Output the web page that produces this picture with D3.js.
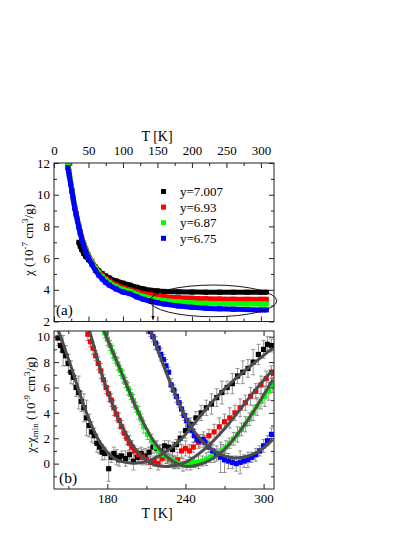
<!DOCTYPE html>
<html>
<head>
<meta charset="utf-8">
<script src="https://cdn.jsdelivr.net/npm/d3@7"></script>
<style>
  body { margin: 0; background: #fff; }
</style>
</head>
<body>
<svg id="chart" width="415" height="537"></svg>
<script>
// ---- panel (a): chi vs T, four compositions ----
var topT = [20,22,24,26,28,30,32,34,36,38,40,43,46,50,55,60,65,70,75,80,90,100,110,120,130,140,150,160,180,200,220,240,260,280,300,308];
var chiRed   = [12.0,11.45,10.85,10.3,9.8,9.25,8.85,8.45,8.05,7.7,7.35,6.95,6.6,6.2,5.8,5.45,5.15,4.92,4.72,4.56,4.32,4.14,4.0,3.88,3.76,3.68,3.62,3.57,3.51,3.47,3.44,3.42,3.41,3.4,3.4,3.4];
var chiGreen = [11.9,11.4,10.8,10.25,9.75,9.2,8.8,8.4,8.0,7.62,7.28,6.88,6.52,6.12,5.72,5.36,5.06,4.82,4.62,4.45,4.2,4.02,3.9,3.72,3.58,3.47,3.39,3.33,3.24,3.18,3.15,3.13,3.11,3.1,3.1,3.1];
var chiBlue  = [11.7,11.25,10.7,10.2,9.7,9.15,8.75,8.35,7.95,7.58,7.22,6.8,6.42,6.02,5.6,5.22,4.92,4.68,4.47,4.3,4.05,3.86,3.75,3.55,3.4,3.28,3.18,3.1,2.98,2.9,2.84,2.8,2.77,2.75,2.73,2.73];
var blackT   = [36,38,40,43,46,50,55,60,65,70,75,80,90,100,110,120,130,140,150,160,180,200,220,240,260,280,300,308];
var chiBlack = [7.0,6.75,6.55,6.3,6.1,5.9,5.65,5.42,5.2,5.02,4.87,4.75,4.56,4.42,4.3,4.16,4.05,3.97,3.93,3.9,3.87,3.86,3.85,3.85,3.85,3.85,3.85,3.85];

var legendLabels = ["y=7.007", "y=6.93", "y=6.87", "y=6.75"];
var seriesColors = ["#000000", "#ff0000", "#00ff00", "#0000ff"];

var topTicks = [0,50,100,150,200,250,300];
var topMinor = [25,75,125,175,225,275];
var chiTicks = [2,4,6,8,10,12];
var chiMinor = [3,5,7,9,11];

// ellipse marking the high-T region, and the arrow at T*
var ellT = 231, ellChi = 3.3, ellDT = 92, ellDChi = 1.0;
var arrowT = 143.5, arrowFrom = 3.45, arrowTo = 2.12;

// ---- panel (b): chi - chi_min vs T with fits ----
var bBlackT = [142,144,146,148,150,152,154,156,158,160,162,164,166,168,170,172,174,176,178,181,183,185,187,189,191,194,197,200,203,206,209,212,215,218,221,224,227,230,233,236,240,244,248,252,256,260,264,268,272,276,280,284,288,292,296,300,303,306];
var bBlackV = [9.9,9.3,8.9,8.5,7.9,7.2,6.8,6.0,5.6,4.9,4.4,3.6,3.0,2.5,2.2,1.6,1.3,0.9,0.8,-0.4,0.5,0.8,0.5,0.3,0.6,0.4,0.7,0.2,0.5,0.8,0.6,0.9,1.3,1.2,1.0,1.4,1.3,1.1,1.5,2.0,2.6,3.1,3.6,4.0,4.4,4.7,5.2,5.6,6.0,6.3,6.9,7.2,7.5,8.0,8.6,9.0,9.4,9.3];
var bBlackE = [0.6,0.5,1.2,0.8,0.7,0.9,0.6,0.7,1.3,0.8,1.1,1.4,0.9,0.8,0.6,0.7,0.5,0.6,0.5,1.0,0.4,0.5,0.6,0.5,0.4,0.6,0.4,0.7,0.5,0.5,0.6,0.4,0.5,0.6,0.5,0.4,0.5,0.6,0.4,0.5,0.6,0.5,0.5,0.6,0.6,0.8,0.7,0.9,0.5,0.8,0.6,0.9,0.7,1.0,0.8,0.7,0.6,0.5];

var bRedT = [165,167,169,171,173,175,177,179,181,183,185,187,189,191,193,195,197,199,201,204,207,210,213,216,219,222,225,228,231,234,237,240,243,246,250,254,258,262,266,270,274,278,282,286,290,294,298,302,306];
var bRedV = [10.2,9.6,9.1,8.5,7.9,7.3,6.6,6.0,5.5,5.0,4.4,3.9,3.4,2.9,2.4,2.0,1.6,1.3,1.0,0.7,0.5,0.3,0.1,0.2,0.0,0.4,0.5,0.3,0.1,0.3,1.0,1.2,1.0,1.3,1.7,1.9,2.2,2.5,2.9,3.3,3.6,4.0,4.4,4.8,5.3,5.7,6.2,6.7,7.2];
var bRedE = [0.5,0.4,0.5,0.4,0.5,0.6,0.4,0.5,0.6,0.5,0.6,0.5,0.6,0.5,0.4,0.5,0.6,0.5,0.4,0.5,0.6,0.4,0.5,0.4,0.5,0.6,0.5,0.4,0.5,0.6,0.5,0.6,0.5,0.4,0.5,0.6,0.5,0.6,0.7,0.6,0.8,0.6,0.7,0.6,0.7,0.6,0.7,0.6,0.5];

var bGreenT = [178,180,182,184,186,188,190,192,194,196,198,200,202,204,206,208,211,214,217,220,223,226,229,232,235,238,241,244,247,250,253,256,259,262,265,268,271,274,277,280,283,286,289,292,295,298,301,304,307];
var bGreenV = [10.3,9.8,9.3,8.8,8.3,7.85,7.35,6.85,6.4,5.9,5.45,4.95,4.45,4.0,3.5,2.9,2.3,1.8,1.3,0.95,0.7,0.5,0.3,0.1,0.0,-0.1,-0.1,0.0,0.1,0.1,0.2,0.35,0.5,0.6,0.75,1.0,1.3,1.6,1.95,2.3,2.7,3.1,3.5,4.0,4.5,4.9,5.3,5.7,6.2];
var bGreenE = [0.4,0.5,0.4,0.5,0.4,0.5,0.4,0.5,0.4,0.5,0.4,0.5,0.4,0.5,0.4,0.5,0.4,0.5,0.4,0.5,0.4,0.5,0.4,0.5,0.4,0.5,0.4,0.5,0.4,0.5,0.4,0.5,0.4,0.5,0.4,0.5,0.5,0.4,0.5,0.6,0.5,0.6,0.5,0.6,0.7,0.6,0.8,0.7,0.6];

var bBlueT = [213,215,217,219,221,223,225,227,229,231,233,235,237,239,241,243,245,247,249,251,253,255,258,261,264,267,270,273,276,279,282,285,288,291,294,297,300,303,306];
var bBlueV = [10.4,10.0,9.5,9.1,8.6,8.2,7.7,7.2,6.2,5.8,5.3,4.8,4.3,3.8,3.4,3.0,2.6,2.2,1.9,1.8,1.9,1.7,1.3,1.0,0.8,0.5,0.3,0.2,0.1,0.0,0.1,0.2,0.3,0.5,0.7,1.0,1.4,1.8,2.3];
var bBlueE = [0.4,0.4,0.5,0.4,0.5,0.4,0.5,0.4,0.5,0.4,0.5,0.4,0.5,0.4,0.5,0.4,0.5,0.5,0.4,0.5,0.4,0.5,0.4,0.5,0.6,1.2,1.0,0.6,0.5,0.6,0.9,0.5,0.6,0.4,0.5,0.4,0.5,0.4,0.5];

var fitBlackT = [141,143.8,153.7,164,174.6,184.9,197.7,210.5,223.4,236.3,249.1,262,277.4,292.8,307];
var fitBlackV = [10.8,10.1,7.14,3.99,1.63,0.45,0.05,0.18,0.83,1.89,3.46,5.04,6.6,7.93,9.1];
var fitRedT = [164,166,177.1,190,202.8,215.7,228.6,241.4,254.2,267.1,279.9,292.8,307];
var fitRedV = [11.1,10.55,6.61,3.2,0.97,-0.08,-0.21,0.18,1.1,2.42,4.0,5.69,7.4];
var fitGreenT = [175,177.1,190,202.8,215.7,228.6,240.1,254.2,267.1,279.9,292.8,307];
var fitGreenV = [11.2,10.55,7.4,4.25,1.76,0.31,-0.21,0.05,0.84,2.3,4.2,6.6];
var fitBlueT = [211,213.1,223.4,233.7,244,254.2,267.1,277.4,287.6,298,307];
var fitBlueV = [11.2,10.55,7.66,5.04,2.94,1.63,0.71,0.45,0.58,1.1,1.89];

var botTicks = [180,240,300];
var botMinor = [150,210,270];
var dTicks = [0,2,4,6,8,10];
var dMinor = [-1,1,3,5,7,9];

// ---------------------------------------------------------------
var FONT = "'Liberation Serif', 'Times New Roman', serif";
var svg = d3.select("#chart");
var L = 54, R = 274;
var xTop = d3.scaleLinear().domain([0, 319]).range([L, R]);
var yTop = d3.scaleLinear().domain([2, 12]).range([321.5, 163]);
var xBot = d3.scaleLinear().domain([139, 308]).range([L, R]);
var yBot = d3.scaleLinear().domain([-2, 10.45]).range([489, 331]);

var defs = svg.append("defs");
defs.append("clipPath").attr("id", "clipA").append("rect")
  .attr("x", L).attr("y", 163).attr("width", R - L).attr("height", 321.5 - 163);
defs.append("clipPath").attr("id", "clipB").append("rect")
  .attr("x", L).attr("y", 331).attr("width", R - L).attr("height", 489 - 331);
defs.append("marker").attr("id", "arrowhead")
  .attr("viewBox", "0 0 10 10").attr("refX", 9).attr("refY", 5)
  .attr("markerWidth", 5).attr("markerHeight", 6).attr("orient", "auto")
  .append("path").attr("d", "M0,1 L10,5 L0,9 Z").attr("fill", "#000");

function styleAxis(g, size) {
  g.select(".domain").remove();
  g.selectAll("line").attr("stroke", "#222");
  g.selectAll("text").attr("font-size", size || 13).attr("fill", "#000");
}

// axes with inward ticks on all four sides
function frameAxes(x, y, top, bottom, majX, minX, majY, minY, labelTop, labelBottom, xPad) {
  styleAxis(svg.append("g").attr("transform", "translate(0," + top + ")")
    .call(d3.axisTop(x).tickValues(majX).tickSize(-5).tickPadding(xPad)
      .tickFormat(labelTop ? d3.format("d") : "")));
  styleAxis(svg.append("g").attr("transform", "translate(0," + top + ")")
    .call(d3.axisTop(x).tickValues(minX).tickSize(-3).tickFormat("")));
  styleAxis(svg.append("g").attr("transform", "translate(0," + bottom + ")")
    .call(d3.axisBottom(x).tickValues(majX).tickSize(-5).tickPadding(xPad)
      .tickFormat(labelBottom ? d3.format("d") : "")));
  styleAxis(svg.append("g").attr("transform", "translate(0," + bottom + ")")
    .call(d3.axisBottom(x).tickValues(minX).tickSize(-3).tickFormat("")));
  styleAxis(svg.append("g").attr("transform", "translate(" + L + ",0)")
    .call(d3.axisLeft(y).tickValues(majY).tickSize(-5).tickPadding(4).tickFormat(d3.format("d"))));
  styleAxis(svg.append("g").attr("transform", "translate(" + L + ",0)")
    .call(d3.axisLeft(y).tickValues(minY).tickSize(-3).tickFormat("")));
  styleAxis(svg.append("g").attr("transform", "translate(" + R + ",0)")
    .call(d3.axisRight(y).tickValues(majY).tickSize(-5).tickFormat("")));
  styleAxis(svg.append("g").attr("transform", "translate(" + R + ",0)")
    .call(d3.axisRight(y).tickValues(minY).tickSize(-3).tickFormat("")));
  svg.append("rect").attr("x", L).attr("y", top).attr("width", R - L).attr("height", bottom - top)
    .attr("fill", "none").attr("stroke", "#222").attr("stroke-width", 1);
}

// ---------------- panel (a) ----------------
var plotA = svg.append("g").attr("clip-path", "url(#clipA)");
var topSeries = [
  { T: blackT, v: chiBlack, c: seriesColors[0] },
  { T: topT, v: chiRed, c: seriesColors[1] },
  { T: topT, v: chiGreen, c: seriesColors[2] },
  { T: topT, v: chiBlue, c: seriesColors[3] }
];
topSeries.forEach(function (s) {
  var pts = s.T.map(function (t, i) { return [t, s.v[i]]; });
  plotA.append("path").datum(pts)
    .attr("fill", "none").attr("stroke", s.c).attr("stroke-width", 5)
    .attr("d", d3.line().x(function (d) { return xTop(d[0]); })
      .y(function (d) { return yTop(d[1]); }).curve(d3.curveMonotoneX));
  plotA.selectAll(null).data(pts).enter().append("rect")
    .attr("x", function (d) { return xTop(d[0]) - 2.5; })
    .attr("y", function (d) { return yTop(d[1]) - 2.5; })
    .attr("width", 5).attr("height", 5).attr("fill", s.c);
});

frameAxes(xTop, yTop, 163, 321.5, topTicks, topMinor, chiTicks, chiMinor, true, false, 8);

// ellipse + arrow
svg.append("ellipse")
  .attr("cx", xTop(ellT)).attr("cy", yTop(ellChi))
  .attr("rx", xTop(ellT + ellDT) - xTop(ellT))
  .attr("ry", yTop(ellChi - ellDChi) - yTop(ellChi))
  .attr("fill", "none").attr("stroke", "#000").attr("stroke-width", 0.9);
svg.append("line")
  .attr("x1", xTop(arrowT)).attr("x2", xTop(arrowT))
  .attr("y1", yTop(arrowFrom)).attr("y2", yTop(arrowTo))
  .attr("stroke", "#000").attr("stroke-width", 0.9).attr("marker-end", "url(#arrowhead)");

// legend
var legend = svg.append("g");
legendLabels.forEach(function (lab, i) {
  var yy = 191.5 + i * 15.6;
  legend.append("rect").attr("x", 161).attr("y", yy - 2.5).attr("width", 5).attr("height", 5)
    .attr("fill", seriesColors[i]);
  legend.append("text").attr("x", 180).attr("y", yy).attr("dy", "0.35em")
    .attr("font-size", 13).text(lab);
});

svg.append("text").attr("x", 157).attr("y", 141).attr("text-anchor", "middle")
  .attr("font-size", 14).text("T [K]");
svg.append("text").attr("x", 56).attr("y", 315).attr("font-size", 15).text("(a)");

var labA = svg.append("text").attr("transform", "translate(33,240) rotate(-90)")
  .attr("text-anchor", "middle").attr("font-size", 13);
labA.append("tspan").text("\u03c7 (10");
labA.append("tspan").attr("font-size", 9).attr("dy", -5).text("-7");
labA.append("tspan").attr("dy", 5).text(" cm");
labA.append("tspan").attr("font-size", 9).attr("dy", -5).text("3");
labA.append("tspan").attr("dy", 5).text("/g)");

// ---------------- panel (b) ----------------
var plotB = svg.append("g").attr("clip-path", "url(#clipB)");
var botSeries = [
  { T: bBlackT, v: bBlackV, e: bBlackE, c: seriesColors[0] },
  { T: bRedT, v: bRedV, e: bRedE, c: seriesColors[1] },
  { T: bGreenT, v: bGreenV, e: bGreenE, c: seriesColors[2] },
  { T: bBlueT, v: bBlueV, e: bBlueE, c: seriesColors[3] }
];
botSeries.forEach(function (s) {
  var eb = plotB.append("g").attr("stroke", "#7a7a7a").attr("stroke-width", 0.8);
  s.T.forEach(function (t, i) {
    var x = xBot(t), y1 = yBot(s.v[i] - s.e[i]), y2 = yBot(s.v[i] + s.e[i]);
    eb.append("line").attr("x1", x).attr("x2", x).attr("y1", y1).attr("y2", y2);
    eb.append("line").attr("x1", x - 2).attr("x2", x + 2).attr("y1", y1).attr("y2", y1);
    eb.append("line").attr("x1", x - 2).attr("x2", x + 2).attr("y1", y2).attr("y2", y2);
  });
});
botSeries.forEach(function (s) {
  plotB.selectAll(null).data(s.T).enter().append("rect")
    .attr("x", function (t) { return xBot(t) - 2.6; })
    .attr("y", function (t, i) { return yBot(s.v[i]) - 2.6; })
    .attr("width", 5.2).attr("height", 5.2).attr("fill", s.c);
});

var fits = [[fitBlackT, fitBlackV], [fitRedT, fitRedV], [fitGreenT, fitGreenV], [fitBlueT, fitBlueV]];
fits.forEach(function (f) {
  var pts = f[0].map(function (t, i) { return [t, f[1][i]]; });
  plotB.append("path").datum(pts)
    .attr("fill", "none").attr("stroke", "#4d4d4d").attr("stroke-width", 3)
    .attr("d", d3.line().x(function (d) { return xBot(d[0]); })
      .y(function (d) { return yBot(d[1]); }).curve(d3.curveCatmullRom));
});

frameAxes(xBot, yBot, 331, 489, botTicks, botMinor, dTicks, dMinor, false, true, 5);

svg.append("text").attr("x", 157).attr("y", 518).attr("text-anchor", "middle")
  .attr("font-size", 14).text("T [K]");
svg.append("text").attr("x", 59).attr("y", 483).attr("font-size", 15.5).text("(b)");

var labB = svg.append("text").attr("transform", "translate(35,405) rotate(-90)")
  .attr("text-anchor", "middle").attr("font-size", 13);
labB.append("tspan").text("\u03c7-\u03c7");
labB.append("tspan").attr("font-size", 9).attr("dy", 3).text("min");
labB.append("tspan").attr("dy", -3).text(" (10");
labB.append("tspan").attr("font-size", 9).attr("dy", -5).text("-9");
labB.append("tspan").attr("dy", 5).text(" cm");
labB.append("tspan").attr("font-size", 9).attr("dy", -5).text("3");
labB.append("tspan").attr("dy", 5).text("/g)");

// every text in the serif face
svg.selectAll("text").style("font-family", FONT);
</script>
</body>
</html>
